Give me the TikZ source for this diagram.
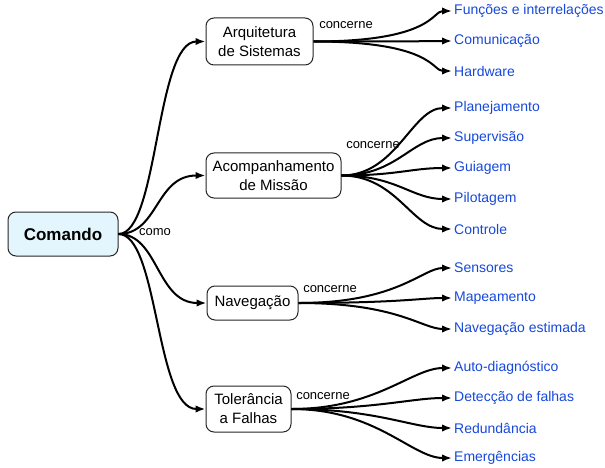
\documentclass[tikz,border=0pt]{standalone}
\usepackage{fontspec}
\setmainfont{Liberation Sans}
\usetikzlibrary{arrows.meta}
\definecolor{leafblue}{RGB}{22,72,218}
\definecolor{rootfill}{RGB}{228,246,253}
\begin{document}
\begin{tikzpicture}[x=1pt,y=-1pt,
  topic/.style={draw=black!85,line width=1pt,rounded corners=8pt,fill=white,
    align=center,inner sep=0pt,font=\fontsize{15}{19}\selectfont},
  leaf/.style={anchor=west,inner sep=0pt,text=leafblue,font=\fontsize{14}{16}\selectfont},
  lbl/.style={inner sep=0pt,font=\fontsize{13}{15}\selectfont},
  link/.style={line width=2pt,-{Latex[length=10pt,width=7.5pt]}}]
\path[use as bounding box] (0,0) rectangle (605,468);

% central topic
\node[topic,fill=rootfill,minimum width=110pt,minimum height=44pt,
      font=\fontsize{17}{20}\selectfont\bfseries] (root) at (63,234) {Comando};

% main branches
\node[topic,minimum width=107pt,minimum height=47pt] (arq) at (259.5,41.5) {Arquitetura\\de Sistemas};
\node[topic,minimum width=135pt,minimum height=45pt] (acp) at (273.5,175.5) {Acompanhamento\\de Missão};
\node[topic,minimum width=91pt,minimum height=34pt] (nav) at (252.5,303) {Navegação};
\node[topic,minimum width=85pt,minimum height=46pt] (tol) at (248.5,409) {Tolerância\\a Falhas};

% leaves
\node[leaf] (l1) at (454,11) {Funções e interrelações};
\node[leaf] (l2) at (454,41) {Comunicação};
\node[leaf] (l3) at (454,71) {Hardware};
\node[leaf] (l4) at (454,108) {Planejamento};
\node[leaf] (l5) at (454,138) {Supervisão};
\node[leaf] (l6) at (454,168) {Guiagem};
\node[leaf] (l7) at (454,199) {Pilotagem};
\node[leaf] (l8) at (454,229) {Controle};
\node[leaf] (l9) at (454,268) {Sensores};
\node[leaf] (l10) at (454,298) {Mapeamento};
\node[leaf] (l11) at (454,329) {Navegação estimada};
\node[leaf] (l12) at (454,368) {Auto-diagnóstico};
\node[leaf] (l13) at (454,398) {Detecção de falhas};
\node[leaf] (l14) at (454,428) {Redundância};
\node[leaf] (l15) at (454,458) {Emergências};

% relation labels
\node[lbl] (como) at (155,232) {como};
\node[lbl] (c1) at (346,25) {concerne};
\node[lbl] (c2) at (373,145) {concerne};
\node[lbl] (c3) at (330,289) {concerne};
\node[lbl] (c4) at (323,396) {concerne};

% root to branches
\foreach \t in {arq,acp,nav,tol}
  \draw[link] (root.east) .. controls +(40,0) and +(-50,0) .. (\t.west);

% branches to leaves
\foreach \l in {l1,l2,l3}
  \draw[link] (arq.east) .. controls +(120,0) and +(-20,0) .. ([xshift=-2pt]\l.west);
\foreach \l in {l4,l5,l6,l7,l8}
  \draw[link] (acp.east) .. controls +(55,0) and +(-40,0) .. ([xshift=-2pt]\l.west);
\foreach \l in {l9,l10,l11}
  \draw[link] (nav.east) .. controls +(100,0) and +(-30,0) .. ([xshift=-2pt]\l.west);
\foreach \l in {l12,l13,l14,l15}
  \draw[link] (tol.east) .. controls +(85,0) and +(-40,0) .. ([xshift=-2pt]\l.west);
\end{tikzpicture}
\end{document}
